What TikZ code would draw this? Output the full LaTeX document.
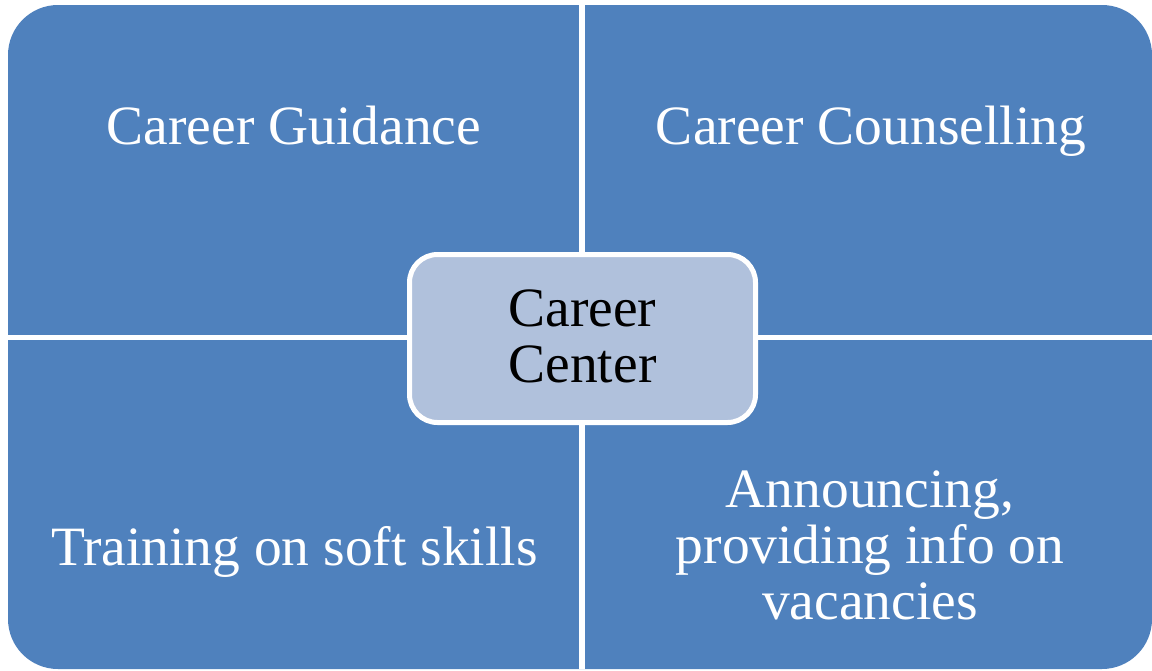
\documentclass[tikz,border=0pt]{standalone}
\usepackage{fontspec}
\setmainfont{Liberation Serif}
\definecolor{quadblue}{HTML}{4F81BD}
\definecolor{centerblue}{HTML}{B0C1DC}
\begin{document}
\begin{tikzpicture}[x=1pt,y=-1pt,
  quadtext/.style={text=white,font=\fontsize{55.5}{56}\selectfont,align=center,inner sep=0pt,anchor=base},
  centertext/.style={text=black,font=\fontsize{55.5}{56.5}\selectfont,align=center,inner sep=0pt,anchor=base},
  centerbox/.style={fill=centerblue,draw=white,line width=5pt,rounded corners=28pt,
    minimum width=346pt,minimum height=168pt,inner sep=0pt},
  divider/.style={draw=white,line width=6pt}]
\useasboundingbox[fill=white] (0,0) rectangle (1152,670);
\fill[quadblue,rounded corners=50pt] (8,5) rectangle (1152,669);
\coordinate (vtop) at (582,5);
\coordinate (vbot) at (582,669);
\coordinate (hleft) at (8,337.5);
\coordinate (hright) at (1152,337.5);
\draw[divider] (vtop) -- (vbot);
\draw[divider,line width=5pt] (hleft) -- (hright);
\node[quadtext] (tl) at (294,144.5) {Career Guidance};
\node[quadtext] (tr) at (871,144.5) {Career Counselling};
\node[quadtext] (bl) at (294.5,565) {Training on soft skills};
\node[quadtext] (br) at (870,619) {Announcing,\\providing info on\\vacancies};
\node[centerbox] (cc) at (582.5,338.5) {};
\node[centertext] (cct) at (582.5,382.5) {Career\\Center};
\end{tikzpicture}
\end{document}
